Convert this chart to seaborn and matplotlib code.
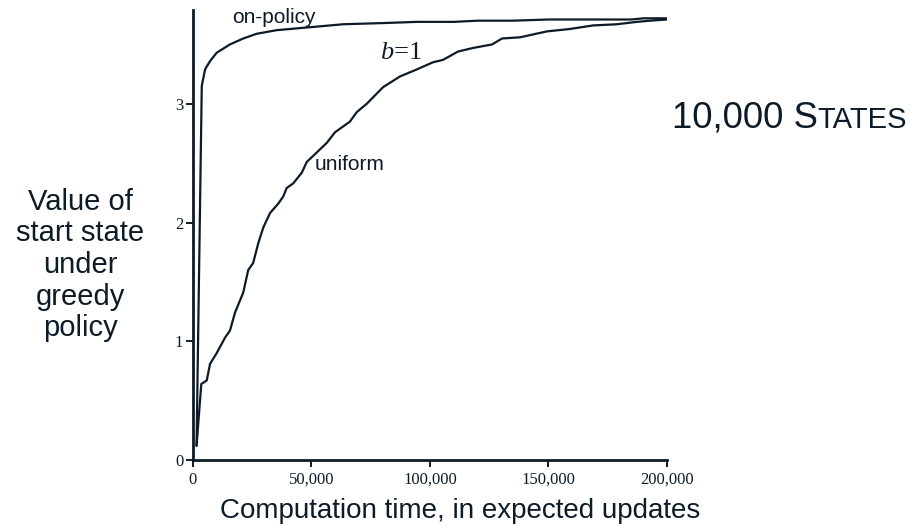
import matplotlib
matplotlib.use("Agg")
import matplotlib.pyplot as plt
import seaborn as sns
import pandas as pd

# Expected updates (x) and value of the start state under the greedy policy (y)
uniform_updates = [1500, 3500, 5800, 7200, 10000, 13500, 15600, 17700, 21200, 23300,
                   25400, 27600, 29700, 32500, 36000, 38100, 39500, 42300, 45900, 48000,
                   52200, 56400, 59900, 63400, 66200, 69100, 73300, 80200, 87300, 94500,
                   101300, 105500, 111800, 118100, 126200, 130400, 138000, 149400, 159000,
                   168800, 178900, 187300, 192800, 200000]
uniform_value = [0.12, 0.64, 0.67, 0.81, 0.90, 1.03, 1.09, 1.24, 1.41, 1.60,
                 1.66, 1.83, 1.96, 2.08, 2.16, 2.22, 2.29, 2.33, 2.42, 2.51,
                 2.59, 2.67, 2.76, 2.81, 2.85, 2.93, 3.00, 3.14, 3.23, 3.29,
                 3.35, 3.37, 3.44, 3.47, 3.50, 3.55, 3.56, 3.61, 3.63,
                 3.66, 3.67, 3.69, 3.70, 3.71]

onpolicy_updates = [1500, 3700, 5100, 7200, 10000, 15600, 21200, 26900, 35300, 46500,
                    52200, 63400, 80300, 94400, 110000, 120000, 135000, 150000, 185000,
                    190000, 200000]
onpolicy_value = [0.12, 3.15, 3.29, 3.36, 3.43, 3.50, 3.55, 3.59, 3.62, 3.64,
                  3.65, 3.67, 3.68, 3.69, 3.69, 3.70, 3.70, 3.71, 3.71,
                  3.72, 3.72]

x_ticks = [0, 50000, 100000, 150000, 200000]
x_tick_labels = ["0", "50,000", "100,000", "150,000", "200,000"]
y_ticks = [0, 1, 2, 3]
y_tick_labels = ["0", "1", "2", "3"]

INK = "#0d1b28"
SANS = "Liberation Sans"
SERIF = "Liberation Serif"

sns.set_style("ticks")
plt.rcParams["font.family"] = [SANS, "DejaVu Sans"]
plt.rcParams["mathtext.fontset"] = "custom"
plt.rcParams["mathtext.it"] = "Liberation Serif:italic"
plt.rcParams["mathtext.rm"] = "Liberation Serif"

df = pd.concat([
    pd.DataFrame({"updates": uniform_updates, "value": uniform_value, "method": "uniform"}),
    pd.DataFrame({"updates": onpolicy_updates, "value": onpolicy_value, "method": "on-policy"}),
])

fig = plt.figure(figsize=(9.12, 5.27), dpi=100)
ax = fig.add_axes([193 / 912, 67 / 527, 474 / 912, 450 / 527])

sns.lineplot(data=df, x="updates", y="value", hue="method",
             palette={"uniform": INK, "on-policy": INK},
             estimator=None, sort=False, linewidth=1.6, legend=False, ax=ax)

ax.set_xlim(0, 200000)
ax.set_ylim(0, 3.79)
ax.set_xticks(x_ticks)
ax.set_xticklabels(x_tick_labels, fontfamily=SERIF, fontsize=12, color=INK)
ax.set_yticks(y_ticks)
ax.set_yticklabels(y_tick_labels, fontfamily=SERIF, fontsize=12, color=INK)
ax.tick_params(axis="both", direction="out", length=5, width=1.4, color=INK)
ax.tick_params(axis="x", pad=3.5)
ax.tick_params(axis="y", pad=2)
ax.set_xlabel("")
ax.set_ylabel("")
for side in ("top", "right"):
    ax.spines[side].set_visible(False)
for side in ("left", "bottom"):
    ax.spines[side].set_linewidth(2.0)
    ax.spines[side].set_color(INK)

# Curve labels
ax.text(16500, 3.68, "on-policy", fontsize=15, color=INK, va="baseline", ha="left")
ax.text(51500, 2.44, "uniform", fontsize=15, color=INK, va="baseline", ha="left")
ax.text(79000, 3.38, "$b$=1", fontsize=19, color=INK, va="baseline", ha="left",
        fontfamily=SERIF)

# Axis titles
fig.text(460 / 912, 9 / 527, "Computation time, in expected updates",
         fontsize=20, color=INK, ha="center", va="baseline")
fig.text(80 / 912, (527 - 265) / 527, "Value of\nstart state\nunder\ngreedy\npolicy",
         fontsize=21, color=INK, ha="center", va="center", multialignment="center",
         linespacing=1.17)

# Panel title in small capitals
t1 = fig.text(672 / 912, (527 - 128) / 527, "10,000 S", fontsize=26.3, color=INK,
              ha="left", va="baseline")
fig.canvas.draw()
bb = t1.get_window_extent(renderer=fig.canvas.get_renderer())
x_next = fig.transFigure.inverted().transform((bb.x1, bb.y0))[0]
fig.text(x_next, (527 - 128) / 527, "TATES", fontsize=21, color=INK,
         ha="left", va="baseline")

fig.savefig("out.png", dpi=100, facecolor="white")
